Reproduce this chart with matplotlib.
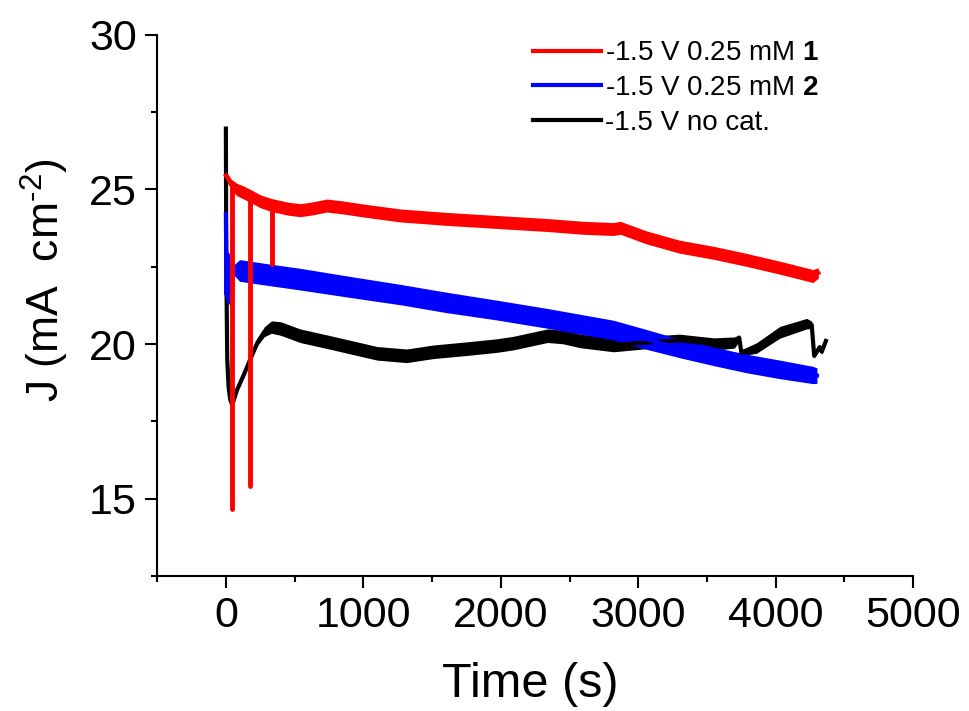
import numpy as np
import matplotlib
matplotlib.use("Agg")
import matplotlib.pyplot as plt
from matplotlib.ticker import MultipleLocator

plt.rcParams["font.family"] = ["Liberation Sans", "DejaVu Sans"]
plt.rcParams["mathtext.fontset"] = "custom"
plt.rcParams["mathtext.rm"] = "Liberation Sans"
plt.rcParams["mathtext.bf"] = "Liberation Sans:bold"

# ---------------------------------------------------------------------------
# Data
# ---------------------------------------------------------------------------

# -1.5 V 0.25 mM 1 (red)
t_red = [0, 15, 40, 80, 130, 175, 250, 330, 450, 540, 620, 735, 850, 1000,
         1270, 1600, 1970, 2340, 2600, 2820, 2870, 3060, 3300, 3550, 3790,
         4030, 4200, 4270, 4310]
j_red = [25.45, 25.35, 25.15, 25.0, 24.9, 24.8, 24.62, 24.5, 24.38, 24.33,
         24.38, 24.48, 24.42, 24.32, 24.16, 24.05, 23.95, 23.85, 23.76, 23.72,
         23.76, 23.45, 23.15, 22.95, 22.72, 22.47, 22.28, 22.2, 22.3]
noise_red = [0.12, 0.15, 0.18, 0.2, 0.21, 0.21, 0.21, 0.21, 0.21, 0.21,
             0.21, 0.21, 0.21, 0.21, 0.21, 0.21, 0.21, 0.21, 0.21, 0.21, 0.21,
             0.21, 0.21, 0.21, 0.21, 0.21, 0.21, 0.21, 0.17]
# short current drops in the red trace
spike_t = [48, 178, 332]
spike_low = [14.65, 15.42, 22.6]
spike_high = [25.1, 24.8, 24.5]

# -1.5 V 0.25 mM 2 (blue)
t_blue = [0, 5, 12, 20, 30, 40, 55, 100, 300, 540, 900, 1270, 1600, 1970,
          2340, 2820, 3060, 3300, 3550, 3790, 4030, 4270, 4300]
j_blue = [24.2, 21.6, 22.9, 21.4, 22.6, 21.3, 22.4, 22.38, 22.25, 22.1,
          21.85, 21.6, 21.35, 21.1, 20.83, 20.45, 20.15, 19.86, 19.6, 19.37,
          19.18, 19.0, 18.98]
noise_blue = [0, 0, 0, 0, 0, 0, 0.15, 0.35, 0.35, 0.35, 0.34, 0.33, 0.33,
              0.32, 0.32, 0.32, 0.32, 0.3, 0.3, 0.3, 0.3, 0.28, 0.25]

# -1.5 V no cat. (black)
t_blk = [0, 3, 10, 20, 32, 46, 80, 130, 175, 230, 280, 332, 400, 540, 780,
         1100, 1315, 1510, 1750, 1970, 2090, 2340, 2450, 2580, 2820, 3060,
         3300, 3550, 3700, 3735, 3750, 3860, 4030, 4225, 4262, 4280, 4320,
         4335, 4365]
j_blk = [26.97, 22.5, 19.5, 18.6, 18.2, 18.03, 18.5, 19.0, 19.48, 20.05,
         20.4, 20.55, 20.5, 20.27, 20.03, 19.7, 19.62, 19.75, 19.85, 19.95,
         20.03, 20.27, 20.23, 20.1, 19.97, 20.05, 20.12, 20.0, 20.05, 20.2,
         19.72, 19.87, 20.38, 20.66, 20.62, 19.62, 19.9, 19.75, 20.1]
noise_blk = [0, 0, 0, 0, 0, 0, 0, 0.02, 0.05, 0.1, 0.16, 0.2, 0.22, 0.22,
             0.22, 0.22, 0.22, 0.22, 0.22, 0.22, 0.22, 0.22, 0.22, 0.22, 0.22,
             0.2, 0.2, 0.2, 0.18, 0.1, 0.1, 0.17, 0.19, 0.17, 0.12, 0.08,
             0.08, 0.08, 0.08]

labels = [r"-1.5 V 0.25 mM $\mathbf{1}$",
          r"-1.5 V 0.25 mM $\mathbf{2}$",
          "-1.5 V no cat."]

# ---------------------------------------------------------------------------
# Plot
# ---------------------------------------------------------------------------

fig = plt.figure(figsize=(9.7, 7.11), dpi=100)
ax = fig.add_axes([0.162, 0.190, 0.7794, 0.7609])


def trace(t, j, noise, color, label):
    t = np.asarray(t, float)
    j = np.asarray(j, float)
    noise = np.asarray(noise, float)
    ax.fill_between(t, j - noise, j + noise, color=color, lw=0)
    line, = ax.plot(t, j, color=color, lw=3, label=label,
                    solid_joinstyle="round")
    return line


h_blk = trace(t_blk, j_blk, noise_blk, "black", labels[2])
h_blue = trace(t_blue, j_blue, noise_blue, "#0000ff", labels[1])
h_red = trace(t_red, j_red, noise_red, "#ff0000", labels[0])
ax.vlines(spike_t, spike_low, spike_high, color="#ff0000", lw=3.5,
          capstyle="round")

ax.set_xlim(-500, 5000)
ax.set_ylim(12.5, 30)
ax.xaxis.set_major_locator(MultipleLocator(1000))
ax.xaxis.set_minor_locator(MultipleLocator(500))
ax.yaxis.set_major_locator(MultipleLocator(5))
ax.yaxis.set_minor_locator(MultipleLocator(2.5))

for side in ["top", "right"]:
    ax.spines[side].set_visible(False)
for side in ["left", "bottom"]:
    ax.spines[side].set_linewidth(1.5)

ax.tick_params(which="major", direction="out", length=8.5, width=1.5,
               labelsize=31, pad=6)
ax.tick_params(which="minor", direction="out", length=4.5, width=1.5)

ax.set_xlabel("Time (s)", fontsize=35)
ax.xaxis.set_label_coords(0.493, -0.16)
ax.set_ylabel(r"J (mA  cm$^{\text{-2}}$)", fontsize=32)
ax.yaxis.set_label_coords(-0.114, 0.547)

ax.legend(handles=[h_red, h_blue, h_blk], loc="upper left",
          bbox_to_anchor=(0.497, 0.99), frameon=False, fontsize=20,
          handlelength=2.45, handletextpad=0.15, labelspacing=0.31,
          borderpad=0, borderaxespad=0)

fig.savefig("out.png", dpi=100)
